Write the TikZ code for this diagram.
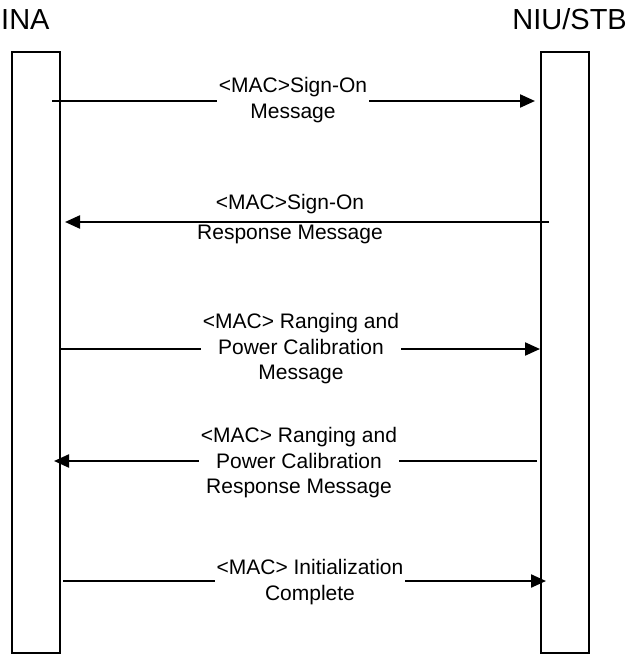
\documentclass[tikz,border=0pt]{standalone}
\usepackage{fontspec}
\setmainfont{Liberation Sans}
\usetikzlibrary{arrows.meta}
\begin{document}
\begin{tikzpicture}[x=1pt,y=-1pt,
  lifebox/.style={draw, line width=2pt, minimum width=48pt, minimum height=601pt, inner sep=0pt},
  title/.style={font=\fontsize{29}{33}\selectfont, inner sep=0pt},
  msg/.style={line width=2.2pt, -{Triangle[length=15pt,width=13pt]}},
  msglabel/.style={fill=white, align=center, inner sep=2pt, font=\fontsize{21}{25.5}\selectfont}]
\useasboundingbox[fill=white] (0,0) rectangle (627,655);
\node[title, anchor=base west] (inat) at (1,30) {INA};
\node[title, anchor=base east] (niut) at (627,30) {NIU/STB};
\node[lifebox] (ina) at (35.5,352.5) {};
\node[lifebox] (niu) at (565,352.5) {};
% message 1
\coordinate (m1s) at (52,101);
\coordinate (m1e) at (535,101);
\draw[msg] (m1s) -- (m1e);
\node[msglabel] (l1) at (293,100) {<MAC>Sign-On\\Message};
% message 2
\coordinate (m2s) at (549,222);
\coordinate (m2e) at (65,222);
\draw[msg] (m2s) -- (m2e);
\node[msglabel, fill=none] (l2) at (290,219) {<MAC>Sign-On\\[4pt]Response Message};
% message 3
\coordinate (m3s) at (60,349);
\coordinate (m3e) at (540,349);
\draw[msg] (m3s) -- (m3e);
\node[msglabel] (l3) at (301,349) {<MAC> Ranging and\\Power Calibration\\Message};
% message 4
\coordinate (m4s) at (537,461);
\coordinate (m4e) at (54,461);
\draw[msg] (m4s) -- (m4e);
\node[msglabel] (l4) at (299,463) {<MAC> Ranging and\\Power Calibration\\Response Message};
% message 5
\coordinate (m5s) at (63,581);
\coordinate (m5e) at (546,581);
\draw[msg] (m5s) -- (m5e);
\node[msglabel] (l5) at (310,582) {<MAC> Initialization\\Complete};
\end{tikzpicture}
\end{document}
